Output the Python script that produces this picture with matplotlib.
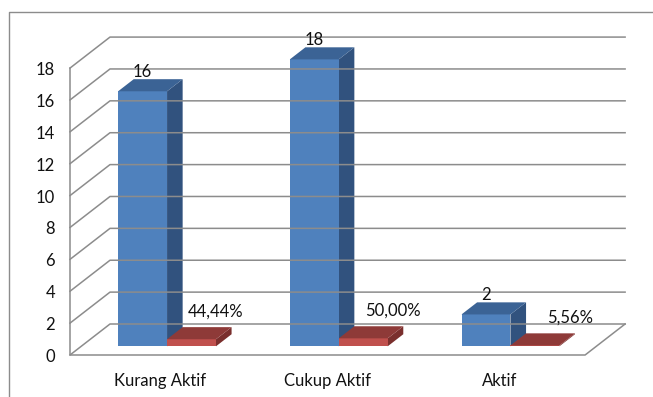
import matplotlib
matplotlib.use('Agg')
import matplotlib.pyplot as plt
from matplotlib.patches import Polygon

# data
categories = ['Kurang Aktif', 'Cukup Aktif', 'Aktif']
jumlah = [16, 18, 2]
persen = [44.44, 50.00, 5.56]
y_ticks = list(range(0, 20, 2))

# fake 3d geometry (pixels)
X0, Y0 = 70, 355        # front-left corner of the floor
CAT_W = 171.7           # width of one category
UNIT = 15.94            # pixels per value unit
DEPTH = (40, 31)        # screen offset for the full depth
Z0, Z1 = 0.28, 0.67     # depth range of the bars
BAR_W = 0.285           # bar width as fraction of category

BLUE = ('#4F81BD', '#3B6395', '#31527E')
RED = ('#C0504D', '#8E3A38', '#7A2F2D')
GRID = '#8C8C8C'


def proj(x, y, z):
    return (X0 + x * CAT_W + z * DEPTH[0], Y0 - y * UNIT - z * DEPTH[1])


def draw_bar(ax, x0, x1, h, colors):
    front = [proj(x0, 0, Z0), proj(x1, 0, Z0), proj(x1, h, Z0), proj(x0, h, Z0)]
    top = [proj(x0, h, Z0), proj(x1, h, Z0), proj(x1, h, Z1), proj(x0, h, Z1)]
    side = [proj(x1, 0, Z0), proj(x1, 0, Z1), proj(x1, h, Z1), proj(x1, h, Z0)]
    ax.add_patch(Polygon(side, closed=True, fc=colors[2], ec='none'))
    ax.add_patch(Polygon(front, closed=True, fc=colors[0], ec='none'))
    ax.add_patch(Polygon(top, closed=True, fc=colors[1], ec='none'))


fig = plt.figure(figsize=(6.53, 3.97), dpi=100)
ax = fig.add_axes([0, 0, 1, 1])
ax.set_xlim(0, 653)
ax.set_ylim(397, 0)
ax.axis('off')

font = dict(family=['Lato', 'DejaVu Sans'], fontsize=12, color='#111111')

# outer border (runs off the right and bottom edges)
ax.plot([9, 9, 653], [397, 12, 12], color='#8C8C8C', lw=1.0)

# gridlines on the left and back walls
n = len(categories)
for v in y_ticks:
    pts = [proj(0, v, 0), proj(0, v, 1), proj(n, v, 1)]
    ax.plot([p[0] for p in pts], [p[1] for p in pts], color=GRID, lw=1.1)
    fx, fy = proj(0, v, 0)
    ax.text(fx - 15, fy + 2, str(v), ha='right', va='center', **font)

# left front edge and floor
pts = [proj(0, y_ticks[-1], 0), proj(0, 0, 0), proj(n, 0, 0), proj(n, 0, 1)]
ax.plot([p[0] for p in pts], [p[1] for p in pts], color=GRID, lw=1.1)

# bars
for i, cat in enumerate(categories):
    b0 = i + 0.5 - BAR_W
    b1 = i + 0.5
    b2 = i + 0.5 + BAR_W
    draw_bar(ax, b0, b1, jumlah[i], BLUE)
    draw_bar(ax, b1, b2, persen[i] / 100, RED)

    # value labels
    lx, _ = proj((b0 + b1) / 2, jumlah[i], Z0)
    _, ly = proj((b0 + b1) / 2, jumlah[i], Z1)
    ax.text(lx, ly + 1, str(jumlah[i]), ha='center', va='bottom', **font)

    px, _ = proj((b1 + b2) / 2, persen[i] / 100, Z0)
    _, py = proj((b1 + b2) / 2, persen[i] / 100, Z1)
    ax.text(px + 24 + 5.5 * i, py - 8, '{:.2f}%'.format(persen[i]).replace('.', ','),
            ha='center', va='bottom', **font)

    # category labels
    cx, cy = proj(i + 0.5, 0, 0)
    ax.text(cx + (4 if i == 0 else 0), cy + 26, cat, ha='center', va='center', **font)

fig.savefig('out.png', dpi=100)
